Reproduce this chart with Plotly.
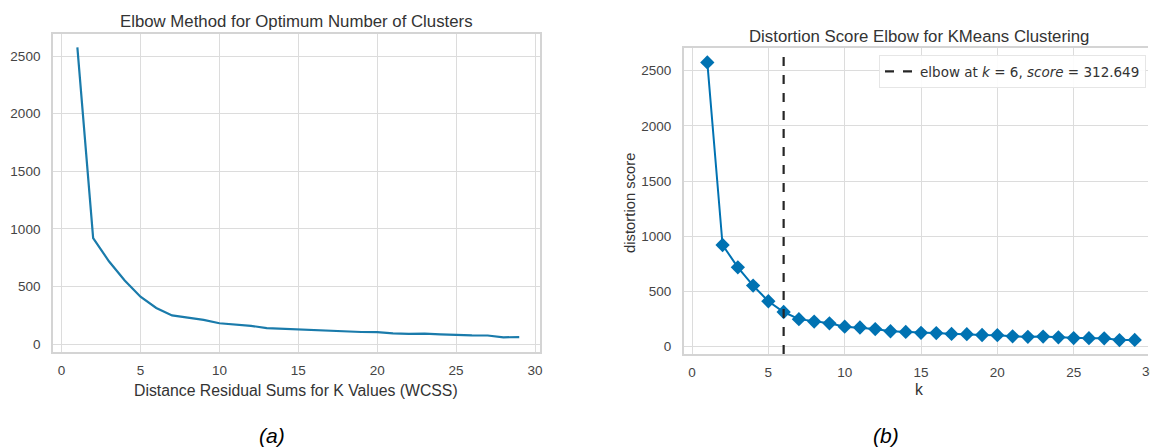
import plotly.graph_objects as go

# ---------------- data ----------------
k_values = list(range(1, 30))
wcss = [2575, 920, 718, 552, 410, 312.649, 248, 226, 210, 180, 172, 158, 138, 132,
        124, 122, 114, 112, 104, 103, 92, 88, 90, 83, 76, 75, 74, 58, 60]
elbow_k = 6
elbow_score = 312.649
x_ticks = [0, 5, 10, 15, 20, 25, 30]
y_ticks = [0, 500, 1000, 1500, 2000, 2500]

W, H = 1150, 448
FONT = "Liberation Sans, Arial, sans-serif"
GRID = "#dcdcdc"
FRAME = "#d4d4d4"
TICKC = "#444444"


def fx(p):
    return p / W


def fy(p):
    return 1 - p / H


x2_domain = [fx(685), 1.0]
x2_range = [-0.54, 29.87]

fig = go.Figure()

# (a) plain elbow line
fig.add_trace(go.Scatter(
    x=k_values, y=wcss, mode="lines",
    line=dict(color="#1a7bab", width=2.2),
    xaxis="x", yaxis="y", showlegend=False, hoverinfo="skip"))

# (b) yellowbrick style distortion elbow
fig.add_trace(go.Scatter(
    x=k_values, y=wcss, mode="lines+markers",
    line=dict(color="#0072B2", width=2),
    marker=dict(symbol="diamond", size=11, color="#0072B2"),
    xaxis="x2", yaxis="y2", showlegend=False, hoverinfo="skip"))

fig.add_shape(
    type="line", xref="x2", yref="y2 domain",
    x0=elbow_k, x1=elbow_k, y0=0, y1=1,
    line=dict(color="#262626", width=2.2, dash="dash"),
    showlegend=True,
    name=f"elbow at <i>k</i> = {elbow_k}, <i>score</i> = {elbow_score}")

axis_common = dict(
    showgrid=True, gridcolor=GRID, gridwidth=1.2,
    showline=True, linecolor=FRAME, linewidth=1.6,
    zeroline=False, ticks="",
    tickfont=dict(family=FONT, size=13.5, color=TICKC),
)

fig.update_layout(
    width=W, height=H,
    margin=dict(l=0, r=0, t=0, b=0),
    paper_bgcolor="white", plot_bgcolor="white",
    font=dict(family=FONT, color="#333333"),
    xaxis=dict(axis_common, domain=[fx(53), fx(541)], range=[-0.55, 30.32],
               tickvals=x_ticks, mirror=True, anchor="y", ticklabelstandoff=5),
    yaxis=dict(axis_common, domain=[fy(352.3), fy(34)], range=[-72, 2691],
               tickvals=y_ticks, mirror=True, anchor="x", ticklabelstandoff=8),
    xaxis2=dict(axis_common, domain=x2_domain, range=x2_range,
                tickvals=x_ticks, mirror=True, anchor="y2", ticklabelstandoff=5),
    yaxis2=dict(axis_common, domain=[fy(354), fy(48.3)], range=[-68, 2703],
                tickvals=y_ticks, mirror=False, anchor="x2", ticklabelstandoff=8),
    legend=dict(x=fx(1148), xanchor="right", y=fy(55), yanchor="top",
                bgcolor="rgba(255,255,255,0.9)", bordercolor="#e6e6e6",
                borderwidth=1,
                font=dict(family="DejaVu Sans, sans-serif", size=13.5, color="#333333")),
)

ann = [
    dict(text="Elbow Method for Optimum Number of Clusters", x=fx(297), y=fy(21.7),
         font=dict(size=16.8, color="#333333")),
    dict(text="Distortion Score Elbow for KMeans Clustering", x=fx(921), y=fy(36),
         font=dict(size=16.8, color="#333333")),
    dict(text="Distance Residual Sums for K Values (WCSS)", x=fx(297), y=fy(390),
         font=dict(size=15.8, color="#333333")),
    dict(text="k", x=fx(921), y=fy(389), font=dict(size=15.8, color="#333333")),
    dict(text="distortion score", x=fx(631), y=fy(203), textangle=-90,
         font=dict(size=14.8, color="#333333")),
    dict(text="<i>(a)</i>", x=fx(272), y=fy(435), font=dict(size=21, color="#000000")),
    dict(text="<i>(b)</i>", x=fx(888), y=fy(435), font=dict(size=21, color="#000000")),
]
for a in ann:
    fig.add_annotation(xref="paper", yref="paper", showarrow=False,
                       xanchor="center", yanchor="middle",
                       font_family=FONT, **a)

# tick label "30" of panel (b), cut by the right edge of the page as in the original
last_tick = x_ticks[-1]
frac = (last_tick - x2_range[0]) / (x2_range[1] - x2_range[0])
paper_x = x2_domain[0] + frac * (x2_domain[1] - x2_domain[0])
fig.add_annotation(xref="paper", yref="paper", x=paper_x, y=fy(371), text=str(last_tick),
                   showarrow=False, xanchor="center", yanchor="middle",
                   font=dict(family=FONT, size=13.5, color=TICKC))

fig.write_html("out.html")
